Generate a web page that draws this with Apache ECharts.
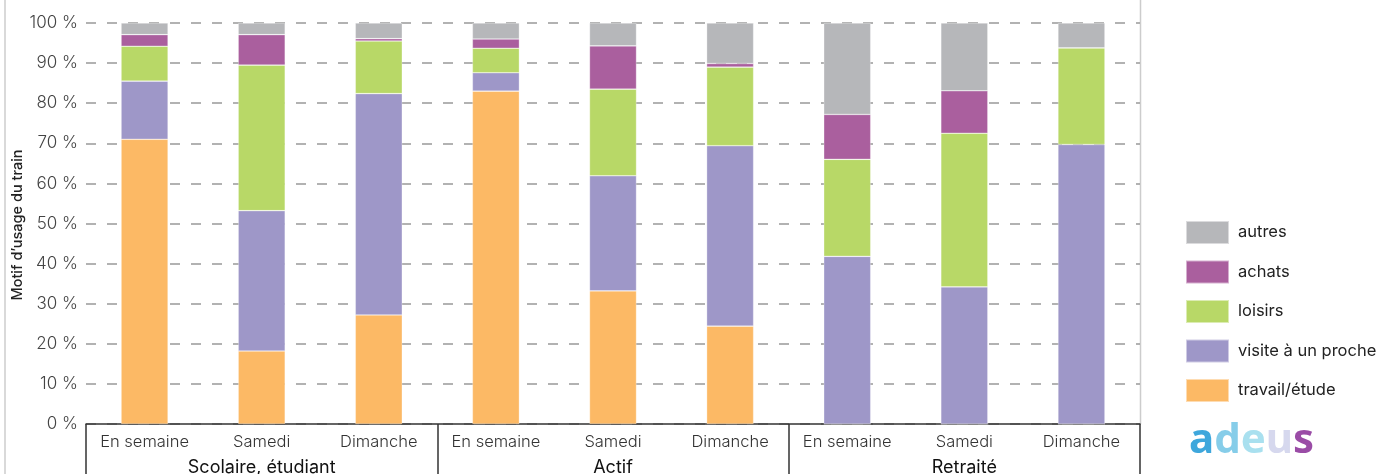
<!DOCTYPE html>
<html>
<head>
<meta charset="utf-8">
<script src="https://cdn.jsdelivr.net/npm/echarts@6/dist/echarts.min.js"></script>
<style>
html,body{margin:0;padding:0;background:#fff;}
#chart{width:1391px;height:474px;}
</style>
</head>
<body>
<div id="chart"></div>
<script>
const categories = ['En semaine','Samedi','Dimanche','En semaine','Samedi','Dimanche','En semaine','Samedi','Dimanche'];
const groups = ['Scolaire, étudiant','Actif','Retraité'];
const yTicks = [0,10,20,30,40,50,60,70,80,90,100];
const travail = [71.0, 18.2, 27.2, 83.0, 33.2, 24.4, 0, 0, 0];
const visite  = [14.5, 35.0, 55.2, 4.6, 28.7, 45.0, 41.8, 34.2, 69.7];
const loisirs = [8.7, 36.3, 13.1, 6.1, 21.6, 19.6, 24.2, 38.3, 24.1];
const achats  = [2.9, 7.6, 0.6, 2.3, 10.8, 0.9, 11.2, 10.6, 0];
const autres  = [2.9, 2.9, 3.9, 4.0, 5.7, 10.1, 22.8, 16.9, 6.2];
const seriesNames = ['travail/étude','visite à un proche','loisirs','achats','autres'];
const seriesColors = ['#fcb965','#9e97c8','#b8d867','#aa5f9e','#b6b7ba'];
const seriesData = [travail, visite, loisirs, achats, autres];
const legendOrder = ['autres','achats','loisirs','visite à un proche','travail/étude'];

const chart = echarts.init(document.getElementById('chart'), null, {renderer:'canvas'});
const font = 'Inter, "Noto Sans", sans-serif';
const series = seriesNames.map((n,i)=>({
  name:n, type:'bar', stack:'total', barWidth:47,
  data: seriesData[i],
  itemStyle:{color:seriesColors[i], borderColor:'rgba(255,255,255,0.5)', borderWidth:0.6},
  emphasis:{disabled:true}
}));
const logoFont = '"Noto Sans", sans-serif';
const logoRich = {};
[['a','#3ea7dc'],['d','#86cde9'],['e','#a9e0ef'],['u','#d6d8ee'],['s','#9a4ca6']].forEach(([k,c])=>{
  logoRich[k] = {fill:c, fontSize:42, fontWeight:'bold', fontFamily:logoFont};
});
chart.setOption({
  animation:false,
  backgroundColor:'#fff',
  grid:{left:86, right:251, top:23, bottom:50, containLabel:false, outerBoundsMode:'none'},
  legend:{
    orient:'vertical', left:1185, top:220, padding:0,
    itemWidth:43, itemHeight:23, itemGap:14.5,
    data:legendOrder,
    textStyle:{fontFamily:font, fontSize:16.5, color:'#222', padding:[0,0,0,4]},
    icon:'rect', selectedMode:false
  },
  xAxis:[{
    type:'category', data:categories, position:'bottom',
    axisLine:{show:true, lineStyle:{color:'#333', width:1.5}},
    axisTick:{show:false},
    axisLabel:{interval:0, margin:10, fontFamily:font, fontSize:16.5, fontWeight:300, color:'#333'}
  },{
    type:'category', data:groups, position:'bottom', gridIndex:0,
    axisLine:{show:false},
    axisTick:{show:true, length:50, lineStyle:{color:'#333', width:1.5}},
    axisLabel:{interval:0, margin:35, fontFamily:font, fontSize:18, fontWeight:400, color:'#111'}
  }],
  yAxis:{
    type:'value', min:0, max:100, interval:10,
    axisLine:{show:false}, axisTick:{show:false},
    axisLabel:{margin:8, fontFamily:font, fontSize:17, fontWeight:300, color:'#444', formatter:v=>v+' %'},
    splitLine:{show:true, lineStyle:{color:'#999', width:1.5, type:[10,11]}}
  },
  series:series,
  graphic:[
    {type:'line', shape:{x1:5,y1:0,x2:5,y2:474}, style:{stroke:'#ccc', lineWidth:1.5}, silent:true},
    {type:'line', shape:{x1:1140.5,y1:0,x2:1140.5,y2:424}, style:{stroke:'#ccc', lineWidth:1.5}, silent:true},
    {type:'text', x:18, y:225, rotation:Math.PI/2,
      style:{text:'Motif d’usage du train', fontFamily:font, fontSize:14.5, fontWeight:500, fill:'#222', align:'center', verticalAlign:'middle'}},
    {type:'text', x:1189, y:441,
      style:{text:'{a|a}{d|d}{e|e}{u|u}{s|s}', align:'left', verticalAlign:'middle',
        fontFamily:logoFont, fontSize:42, fontWeight:'bold', rich:logoRich}}
  ]
});
</script>
</body>
</html>
